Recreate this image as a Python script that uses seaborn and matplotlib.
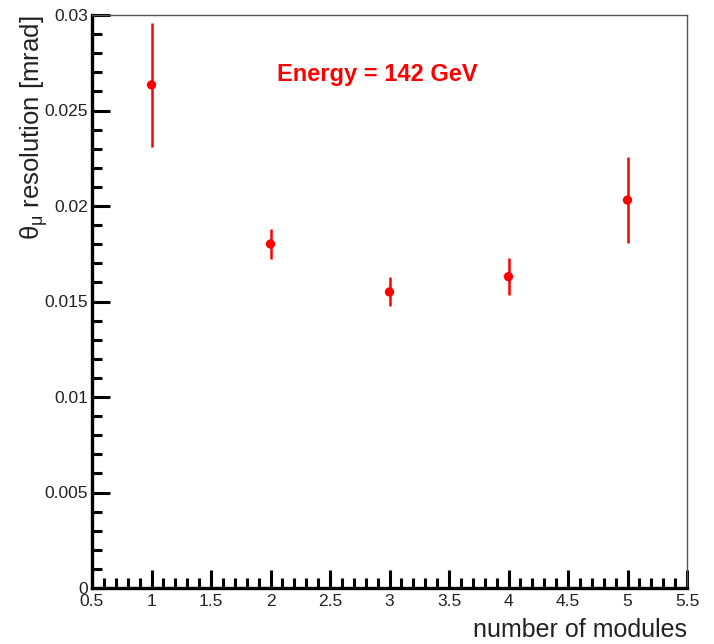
import numpy as np
import pandas as pd
import matplotlib
matplotlib.use("Agg")
import matplotlib.pyplot as plt
from matplotlib.ticker import MultipleLocator
import seaborn as sns

modules = [1, 2, 3, 4, 5]
resolution = [0.02634, 0.01801, 0.01550, 0.01630, 0.02031]
err = [0.00325, 0.00080, 0.00076, 0.00097, 0.00225]
xticks = [0.5, 1, 1.5, 2, 2.5, 3, 3.5, 4, 4.5, 5, 5.5]
xticklabels = ["0.5", "1", "1.5", "2", "2.5", "3", "3.5", "4", "4.5", "5", "5.5"]
yticks = [0, 0.005, 0.01, 0.015, 0.02, 0.025, 0.03]
yticklabels = ["0", "0.005", "0.01", "0.015", "0.02", "0.025", "0.03"]

df = pd.DataFrame({"modules": modules, "resolution": resolution, "err": err})

sns.set_theme(style="white")
plt.rcParams["font.family"] = ["Liberation Sans", "DejaVu Sans"]
plt.rcParams["mathtext.fontset"] = "custom"
plt.rcParams["mathtext.rm"] = "Liberation Sans"
plt.rcParams["mathtext.it"] = "Liberation Sans"

fig = plt.figure(figsize=(7.14, 6.44), dpi=100)
ax = fig.add_axes([92/714, 1-588/644, (687-92)/714, (588-15)/644])

ax.errorbar(df["modules"], df["resolution"], yerr=df["err"], fmt="none",
            ecolor="#ff0000", elinewidth=1.8, capsize=0, zorder=2)
sns.scatterplot(data=df, x="modules", y="resolution", ax=ax, color="#ff0000",
                s=45, edgecolor="none", zorder=3, legend=False)

ax.set_xlim(0.5, 5.5)
ax.set_ylim(0, 0.03)
ax.set_xticks(xticks)
ax.set_xticklabels(xticklabels)
ax.set_yticks(yticks)
ax.set_yticklabels(yticklabels)
ax.xaxis.set_minor_locator(MultipleLocator(0.1))
ax.yaxis.set_minor_locator(MultipleLocator(0.001))

ax.tick_params(axis="both", which="major", direction="in", length=13, width=2.2,
               color="black", labelsize=12.5, labelcolor="#222222")
ax.tick_params(axis="both", which="minor", direction="in", length=7, width=2.2,
               color="black")
ax.tick_params(axis="x", which="both", bottom=True, top=False, pad=4)
ax.tick_params(axis="y", which="both", left=True, right=False, pad=3)

for s in ["left", "bottom"]:
    ax.spines[s].set_linewidth(2.4)
    ax.spines[s].set_color("black")
for s in ["top", "right"]:
    ax.spines[s].set_linewidth(1.0)
    ax.spines[s].set_color("#555555")

ax.set_xlabel("number of modules", fontsize=18, color="#222222", loc="right")
ax.xaxis.set_label_coords(1.0, -0.052)
ax.set_ylabel(r"$\theta_{\mu}$ resolution [mrad]", fontsize=18.5, color="#222222", loc="top")
ax.yaxis.set_label_coords(-0.07, 1.0)

ax.text(2.9, 0.02686, "Energy = 142 GeV", color="#ff0000", fontsize=17,
        fontweight="bold", ha="center", va="center")

fig.savefig("out.png", dpi=100)
